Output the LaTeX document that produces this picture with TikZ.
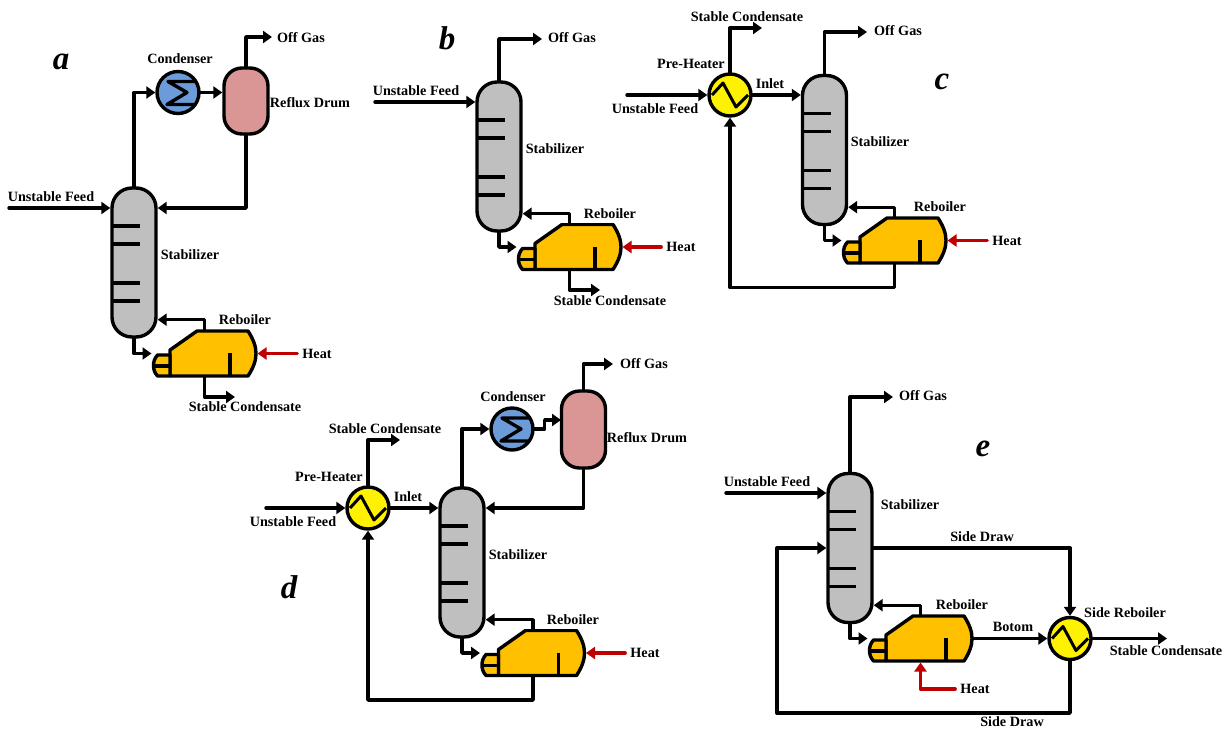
\documentclass[tikz,border=0pt]{standalone}
\usepackage{fontspec}
\setmainfont{Liberation Serif}
\usetikzlibrary{arrows.meta}

\definecolor{colgray}{HTML}{BFBFBF}
\definecolor{rebofill}{HTML}{FFC000}
\definecolor{condblue}{HTML}{6C9BD9}
\definecolor{drumpink}{HTML}{D99694}
\definecolor{heatred}{HTML}{C00000}

\tikzset{
    lbl/.style={font=\fontsize{14.2}{16}\selectfont\bfseries, inner sep=2pt},
    panel/.style={font=\fontsize{33}{36}\selectfont\bfseries\itshape, inner sep=0pt},
    flow/.style={draw, line width=3.4pt, line join=round, line cap=round,
        -{Triangle[length=9pt,width=12pt]}},
    heatflow/.style={flow, draw=heatred, shorten <=3pt},
    pipe/.style={line width=3.4pt, line join=round, sharp corners},
    column/.style={draw, rectangle, line width=3.4pt, rounded corners=20pt, fill=colgray,
        minimum width=44pt, minimum height=149pt, inner sep=0pt,
        path picture={
            \foreach \trayy in {-36.5,-18.5,20.5,38.5}
                \draw[pipe, shift={(path picture bounding box.center)}]
                    (-24,\trayy) -- (6,\trayy);
        }},
    drum/.style={draw, rectangle, line width=3.4pt, rounded corners=18pt, fill=drumpink,
        minimum width=44pt, inner sep=0pt},
    condenser/.style={draw, circle, line width=3.4pt, fill=condblue,
        minimum size=42pt, inner sep=0pt,
        path picture={
            \draw[pipe, shift={(path picture bounding box.center)}]
                (22,-11) -- (-10,-11) -- (9,0) -- (-11,12) -- (22,12);
        }},
    heater/.style={draw, circle, line width=3.4pt, fill=yellow,
        minimum size=42pt, inner sep=0pt,
        path picture={
            \draw[pipe, line width=3pt, shift={(path picture bounding box.center)}]
                (-18,0) -- (-7,-12) -- (6,12) -- (18,0);
        }},
    reboiler/.style={rectangle, minimum width=106pt, minimum height=48pt,
        inner sep=0pt, outer sep=0pt,
        path picture={
            \begin{scope}[pipe, shift={(path picture bounding box.center)}]
                \filldraw[fill=rebofill] (-34.5,22.5) -- (-34.5,-3.5) -- (-7.5,-22.5)
                    -- (43.5,-22.5) .. controls (49,-14) and (51.5,-7) .. (51.5,0)
                    .. controls (51.5,7) and (49,14) .. (43.5,22.5) -- cycle;
                \filldraw[fill=rebofill] (-34.5,1.5) -- (-47,1.5)
                    .. controls (-50,5) and (-51,8) .. (-51,12)
                    .. controls (-51,16) and (-50,19) .. (-47,22.5) -- (-34.5,22.5) -- cycle;
                \draw (-50,12.5) -- (-34.5,12.5);
                \draw (25.5,-0.5) -- (25.5,22.5);
            \end{scope}
        }},
}

\begin{document}
\begin{tikzpicture}[x=1pt, y=-1pt]

    \useasboundingbox (0,0) rectangle (1231,729);

    % a
    \node[column] (acol) at (134,262.5) {};
    \node[condenser] (acond) at (178,92.5) {};
    \node[drum, minimum height=66pt] (adrum) at (246,101) {};
    \node[reboiler] (arebo) at (204.5,353.5) {};
    \node[lbl] (aheat) at (317,353.5) {Heat};
    \node[panel] (apanel) at (61,62) {a};
    \node[lbl] (acondlbl) at (180,59) {Condenser};
    \node[lbl] (adrumlbl) at (310,103) {Reflux Drum};
    \node[lbl] (agas) at (301,38) {Off Gas};
    \node[lbl] (afeedlbl) at (51,197) {Unstable Feed};
    \node[lbl] (acollbl) at (190,255) {Stabilizer};
    \node[lbl] (arebolbl) at (245,320) {Reboiler};
    \node[lbl] (aoutlbl) at (245,407) {Stable Condensate};
    \coordinate (afeed) at (9,208);
    \coordinate (agasend) at (272,37);
    \coordinate (aout) at (235,397);

    \draw[flow] (afeed) -- (afeed -| acol.west);
    \draw[flow] (acol.north) |- (acond.west);
    \draw[flow] (acond.east) -- (acond.east -| adrum.west);
    \draw[flow] (adrum.north) |- (agasend);
    \draw[flow] (adrum.south) |- (afeed -| acol.east);
    \draw[flow] (acol.south) |- (arebo.west);
    \draw[flow] (arebo.north) |- ([yshift=19pt]acol.south east);
    \draw[flow] (arebo.south) |- (aout);
    \draw[heatflow] (aheat) -- (arebo.east);

    % b
    \node[column] (bcol) at (499,156.5) {};
    \node[reboiler] (brebo) at (569.5,247) {};
    \node[lbl] (bheat) at (681,247) {Heat};
    \node[panel] (bpanel) at (447,38) {b};
    \node[lbl] (bgas) at (572,38) {Off Gas};
    \node[lbl] (bfeedlbl) at (416,91) {Unstable Feed};
    \node[lbl] (bcollbl) at (555,149) {Stabilizer};
    \node[lbl] (brebolbl) at (610,214) {Reboiler};
    \node[lbl] (boutlbl) at (610,301) {Stable Condensate};
    \coordinate (bfeed) at (375,102);
    \coordinate (bgasend) at (542,39);
    \coordinate (bout) at (600,290);

    \draw[flow] (bfeed) -- (bfeed -| bcol.west);
    \draw[flow] (bcol.north) |- (bgasend);
    \draw[flow] (bcol.south) |- (brebo.west);
    \draw[flow] (brebo.north) |- ([yshift=19pt]bcol.south east);
    \draw[flow] (brebo.south) |- (bout);
    \draw[heatflow] (bheat) -- (brebo.east);

    % c
    \node[column] (ccol) at (824.5,150) {};
    \node[heater] (chx) at (730,95) {};
    \node[reboiler] (crebo) at (894.5,240.5) {};
    \node[lbl] (cheat) at (1007,240.5) {Heat};
    \node[panel] (cpanel) at (942,82) {c};
    \node[lbl] (cgas) at (898,31) {Off Gas};
    \node[lbl] (coutlbl) at (747,17) {Stable Condensate};
    \node[lbl] (chxlbl) at (691,64) {Pre-Heater};
    \node[lbl] (cfeedlbl) at (655,109) {Unstable Feed};
    \node[lbl] (cinlet) at (770,84) {Inlet};
    \node[lbl] (ccollbl) at (880,142) {Stabilizer};
    \node[lbl] (crebolbl) at (940,207) {Reboiler};
    \coordinate (cfeed) at (627,95);
    \coordinate (cgasend) at (867,32);
    \coordinate (cout) at (762,28);

    \draw[flow] (cfeed) -- (chx.west);
    \draw[flow] (chx.east) -- (chx.east -| ccol.west);
    \draw[flow] (chx.north) |- (cout);
    \draw[flow] (ccol.north) |- (cgasend);
    \draw[flow] (ccol.south) |- (crebo.west);
    \draw[flow] (crebo.north) |- ([yshift=19pt]ccol.south east);
    \draw[flow] (crebo.south) -- ++(0,23) -| (chx.south);
    \draw[heatflow] (cheat) -- (crebo.east);

    % d
    \node[column] (dcol) at (462,562.5) {};
    \node[heater] (dhx) at (368,508) {};
    \node[condenser] (dcond) at (512,429) {};
    \node[drum, minimum height=77pt] (ddrum) at (583.5,429.5) {};
    \node[reboiler] (drebo) at (533,653) {};
    \node[lbl] (dheat) at (645,653) {Heat};
    \node[panel] (dpanel) at (289,587) {d};
    \node[lbl] (dgas) at (644,364) {Off Gas};
    \node[lbl] (dcondlbl) at (513,397) {Condenser};
    \node[lbl] (ddrumlbl) at (647,438) {Reflux Drum};
    \node[lbl] (doutlbl) at (385,429) {Stable Condensate};
    \node[lbl] (dhxlbl) at (329,477) {Pre-Heater};
    \node[lbl] (dfeedlbl) at (293,522) {Unstable Feed};
    \node[lbl] (dinlet) at (408,497) {Inlet};
    \node[lbl] (dcollbl) at (518,555) {Stabilizer};
    \node[lbl] (drebolbl) at (573,620) {Reboiler};
    \coordinate (dfeed) at (266,508);
    \coordinate (dgasend) at (613,364);
    \coordinate (dout) at (400,440);
    \coordinate (dcondout) at (561,420);

    \draw[flow] (dfeed) -- (dhx.west);
    \draw[flow] (dhx.east) -- (dhx.east -| dcol.west);
    \draw[flow] (dhx.north) |- (dout);
    \draw[flow] (dcol.north) |- (dcond.west);
    \draw[flow] (dcond.east) -- ++(10,0) |- (dcondout);
    \draw[flow] (ddrum.north) |- (dgasend);
    \draw[flow] (ddrum.south) |- (dhx.east -| dcol.east);
    \draw[flow] (dcol.south) |- (drebo.west);
    \draw[flow] (drebo.north) |- ([yshift=19pt]dcol.south east);
    \draw[flow] (drebo.south) -- ++(0,23) -| (dhx.south);
    \draw[heatflow] (dheat) -- (drebo.east);

    % e
    \node[column] (ecol) at (850,548) {};
    \node[reboiler] (erebo) at (920.5,638.5) {};
    \node[heater] (ehx) at (1070,638.5) {};
    \node[lbl] (eheat) at (975,689) {Heat};
    \node[panel] (epanel) at (983,449) {e};
    \node[lbl] (egas) at (923,396) {Off Gas};
    \node[lbl] (efeedlbl) at (767,482) {Unstable Feed};
    \node[lbl] (ecollbl) at (910,505) {Stabilizer};
    \node[lbl] (esidetop) at (982,537) {Side Draw};
    \node[lbl] (ehxlbl) at (1125,613) {Side Reboiler};
    \node[lbl] (erebolbl) at (962,605) {Reboiler};
    \node[lbl] (ebotom) at (1013,627) {Botom};
    \node[lbl] (eoutlbl) at (1166,651) {Stable Condensate};
    \node[lbl] (esidebot) at (1012,722) {Side Draw};
    \coordinate (efeed) at (726,493);
    \coordinate (egasend) at (893,397);
    \coordinate (eout) at (1167,638.5);
    \coordinate (ecorner) at (777,713);

    \draw[flow] (efeed) -- (efeed -| ecol.west);
    \draw[flow] (ecol.north) |- (egasend);
    \draw[flow] (ecol.east) -| (ehx.north);
    \draw[flow] (ehx.south) |- (ecorner) |- (ecol.west);
    \draw[flow] (ecol.south) |- (erebo.west);
    \draw[flow] (erebo.north) |- ([yshift=19pt]ecol.south east);
    \draw[flow] (erebo.east) -- (ehx.west);
    \draw[flow] (ehx.east) -- (eout);
    \draw[heatflow] (eheat) -| (erebo.south);

\end{tikzpicture}
\end{document}
